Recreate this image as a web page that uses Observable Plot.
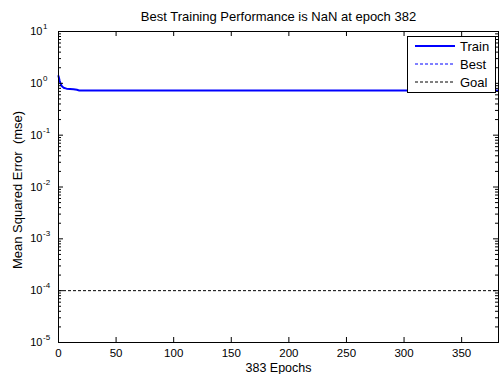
<!DOCTYPE html>
<html>
<head>
<meta charset="utf-8">
<script src="https://cdn.jsdelivr.net/npm/d3@7"></script>
<script src="https://cdn.jsdelivr.net/npm/@observablehq/plot@0.6"></script>
<style>
  body { margin: 0; background: #fff; }
  #chart { position: relative; width: 499px; height: 374px; font-family: Arial, "Liberation Sans", sans-serif; }
  #chart svg { display: block; }
  #legend { position: absolute; left: 0; top: 0; pointer-events: none; }
</style>
</head>
<body>
<div id="chart"></div>
<script>
// Training record: epoch number and mean squared error of the training set
const epochs   = [0, 1, 2, 3, 4, 5, 7, 10, 13, 16, 18, 50, 100, 150, 200, 250, 300, 350, 382];
const trainMse = [1.38, 1.12, 0.96, 0.88, 0.84, 0.81, 0.79, 0.78, 0.77, 0.75, 0.73, 0.73, 0.73, 0.73, 0.73, 0.73, 0.73, 0.73, 0.73];

const goalMse = 1e-4;
const bestEpoch = 382;
const lastEpoch = 382;

const xTicks = [0, 50, 100, 150, 200, 250, 300, 350];
const decadeExponents = [-5, -4, -3, -2, -1, 0, 1];
const minorSteps = [2, 3, 4, 5, 6, 7, 8, 9];

const titleText = "Best Training Performance is NaN at epoch 382";
const xLabel = "383 Epochs";
const yLabel = "Mean Squared Error  (mse)";

const legendItems = [
  { name: "Train", color: "#0000ff", dash: null, width: 2 },
  { name: "Best",  color: "#0000ff", dash: "3,2", width: 1 },
  { name: "Goal",  color: "#000000", dash: "3,2", width: 1 }
];

const train = epochs.map((e, i) => ({ epoch: e, mse: trainMse[i] }));
const majorY = decadeExponents.map(p => 10 ** p);
const minorY = decadeExponents.slice(0, -1).flatMap(p => minorSteps.map(k => k * 10 ** p));

const W = 499, H = 374;
const mT = 31, mB = 32, mL = 58, mR = 1;
const fW = W - mL - mR, fH = H - mT - mB;
const font = "Arial, 'Liberation Sans', sans-serif";

const chart = Plot.plot({
  width: W,
  height: H,
  marginTop: mT,
  marginBottom: mB,
  marginLeft: mL,
  marginRight: mR,
  style: { fontFamily: font, background: "#fff", color: "#000" },
  x: { type: "linear", domain: [0, lastEpoch], axis: null },
  y: { type: "log", domain: [1e-5, 10], axis: null },
  marks: [
    // goal level and best epoch
    Plot.ruleY([goalMse], { y: d => d, x1: 0, x2: lastEpoch, stroke: "#000", strokeWidth: 1, strokeDasharray: "3,2" }),
    Plot.ruleX([bestEpoch], { x: d => d, stroke: "#0000ff", strokeWidth: 1, strokeDasharray: "3,2" }),
    // training curve
    Plot.line(train, { x: "epoch", y: "mse", stroke: "#0000ff", strokeWidth: 2 }),
    // inward ticks on all four sides
    Plot.tickX(xTicks, { x: d => d, insetTop: fH - 5, stroke: "#000" }),
    Plot.tickX(xTicks, { x: d => d, insetBottom: fH - 5, stroke: "#000" }),
    Plot.tickY(majorY, { y: d => d, insetRight: fW - 5, stroke: "#000" }),
    Plot.tickY(majorY, { y: d => d, insetLeft: fW - 5, stroke: "#000" }),
    Plot.tickY(minorY, { y: d => d, insetRight: fW - 3, stroke: "#000" }),
    Plot.tickY(minorY, { y: d => d, insetLeft: fW - 3, stroke: "#000" }),
    Plot.frame({ stroke: "#000", strokeWidth: 1 }),
    // x tick labels
    Plot.text(xTicks, { x: d => d, frameAnchor: "bottom", lineAnchor: "middle", dy: 10.5, text: d => String(d), fontSize: 11.5, fill: "#000" }),
    // y tick labels as 10 with a raised exponent
    Plot.text(decadeExponents, { y: d => 10 ** d, frameAnchor: "left", lineAnchor: "middle", dx: -16, textAnchor: "end", text: () => "10", fontSize: 11, fill: "#000" }),
    Plot.text(decadeExponents, { y: d => 10 ** d, frameAnchor: "left", lineAnchor: "middle", dx: -15.5, dy: -5, textAnchor: "start", text: d => String(d), fontSize: 8, fill: "#000" }),
    // title and axis labels
    Plot.text([titleText], { frameAnchor: "top", lineAnchor: "middle", dy: -15, text: d => d, fontSize: 13, fill: "#000" }),
    Plot.text([xLabel], { frameAnchor: "bottom", lineAnchor: "middle", dy: 25, text: d => d, fontSize: 12.5, fill: "#000" }),
    Plot.text([yLabel], { frameAnchor: "left", textAnchor: "middle", lineAnchor: "middle", dx: -41, dy: 3, rotate: -90, text: d => d, fontSize: 13, fill: "#000" })
  ]
});

const host = document.getElementById("chart");
host.appendChild(chart);

// legend box in the upper right corner of the axes
const lg = d3.select(host).append("svg")
  .attr("id", "legend")
  .attr("width", W)
  .attr("height", H);
const box = { x: 407.5, y: 36.5, w: 88, h: 56 };
lg.append("rect")
  .attr("x", box.x).attr("y", box.y).attr("width", box.w).attr("height", box.h)
  .attr("fill", "#fff").attr("stroke", "#000").attr("stroke-width", 1);
legendItems.forEach((it, i) => {
  const y = 46 + i * 18;
  lg.append("line")
    .attr("x1", 415).attr("x2", 455).attr("y1", y).attr("y2", y)
    .attr("stroke", it.color).attr("stroke-width", it.width)
    .attr("stroke-dasharray", it.dash);
  lg.append("text")
    .attr("x", 460).attr("y", y).attr("dy", "0.35em")
    .attr("font-family", font).attr("font-size", 13).attr("fill", "#000")
    .text(it.name);
});
</script>
</body>
</html>
